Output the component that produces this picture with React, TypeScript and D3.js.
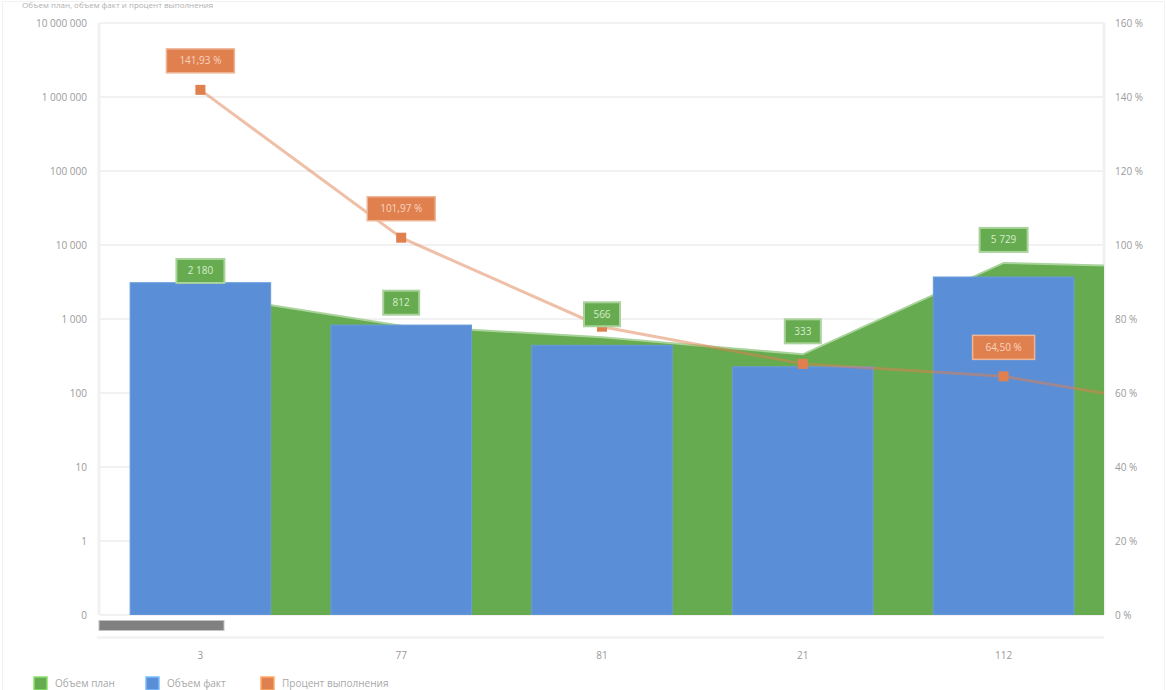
import React from "react";
import * as d3 from "d3";

const categories = ["3", "77", "81", "21", "112", "54"];
const planValues = [2180, 812, 566, 333, 5729, 4900];
const factValues = [3094, 828, 441, 226, 3695, 2715];
const percentValues = [141.93, 101.97, 77.92, 67.87, 64.5, 55.41];
const leftTicks = [0.1, 1, 10, 100, 1000, 10000, 100000, 1000000, 10000000];
const rightTicks = [0, 20, 40, 60, 80, 100, 120, 140, 160];
const seriesNames = ["Объем план", "Объем факт", "Процент выполнения"];
const visibleCount = 5;

const W = 1166;
const H = 690;
const M = { left: 100, right: 1104, top: 23, bottom: 615 };
const GREEN = "#66ab4f";
const GREEN_LIGHT = "#a9d39b";
const BLUE = "#5a8fd7";
const ORANGE = "#e0804f";
const FONT = "'Open Sans', 'Noto Sans', sans-serif";

const fmtNum = (v: number) => d3.format(",")(v).replace(/,/g, " ");
const fmtPct = (v: number) => d3.format(".2f")(v).replace(".", ",") + " %";
const fmtLeft = (v: number) => (v < 1 ? "0" : fmtNum(v));

export default function App() {
  const step = (M.right - M.left) / visibleCount;
  const x = d3
    .scaleBand<string>()
    .domain(categories)
    .range([M.left, M.left + step * categories.length])
    .paddingInner(0.3)
    .paddingOuter(0.15);
  const xc = (i: number) => M.left + step * (i + 0.5);
  const yL = d3.scaleLog().domain([0.1, 1e7]).range([M.bottom, M.top]);
  const yR = d3.scaleLinear().domain([0, 160]).range([M.bottom, M.top]);

  const area = d3
    .area<number>()
    .x((_, i) => xc(i))
    .y0(M.bottom)
    .y1((d) => yL(d));
  const topLine = d3
    .line<number>()
    .x((_, i) => xc(i))
    .y((d) => yL(d));
  const pctLine = d3
    .line<number>()
    .x((_, i) => xc(i))
    .y((d) => yR(d));

  const labelH = 24;
  const greenBoxes = planValues.slice(0, visibleCount).map((v, i) => {
    const t = fmtNum(v);
    const w = t.length * 6 + 18;
    const cy = yL(v) - 23;
    return { t, w, cx: xc(i), cy };
  });
  const orangeBoxes = percentValues.slice(0, visibleCount).map((v, i) => {
    const t = fmtPct(v);
    const w = t.length * 6 + 20;
    const cy = yR(v) - 29;
    const g = greenBoxes[i];
    const overlap = Math.abs(cy - g.cy) < labelH;
    return { t, w, cx: xc(i), cy, show: !overlap };
  });

  return (
    <div style={{ position: "absolute", left: 0, top: 0 }}>
      <svg width={W} height={H} style={{ display: "block", fontFamily: FONT }}>
        <defs>
          <clipPath id="plot">
            <rect x={M.left} y={0} width={M.right - M.left} height={M.bottom} />
          </clipPath>
        </defs>
        <rect x={0} y={0} width={W} height={H} fill="#fff" />
        <rect x={2.5} y={1.5} width={W - 4} height={H} fill="none" stroke="#f2f2f2" />
        <text x={22} y={8} fontSize={8} fill="#b0b0b0">
          Объем план, объем факт и процент выполнения
        </text>

        {/* grid */}
        {leftTicks.map((t) => (
          <line key={t} x1={M.left} x2={M.right} y1={yL(t)} y2={yL(t)} stroke="#f1f1f1" strokeWidth={2} />
        ))}
        <line x1={M.left - 1} x2={M.left - 1} y1={M.top} y2={M.bottom} stroke="#f1f1f1" strokeWidth={3} />
        <line x1={M.right} x2={M.right} y1={M.top} y2={M.bottom} stroke="#f1f1f1" strokeWidth={3} />

        {/* left axis */}
        {leftTicks.map((t) => (
          <text key={t} x={87} y={yL(t)} dy="0.35em" textAnchor="end" fontSize={10} fill="#9a9a9a">
            {fmtLeft(t)}
          </text>
        ))}
        {/* right axis */}
        {rightTicks.map((t) => (
          <text key={t} x={1115} y={yR(t)} dy="0.35em" textAnchor="start" fontSize={10} fill="#9a9a9a">
            {t + " %"}
          </text>
        ))}

        <g clipPath="url(#plot)">
          <path d={area(planValues) || ""} fill={GREEN} />
          <path d={topLine(planValues) || ""} fill="none" stroke={GREEN_LIGHT} strokeWidth={2} />
          {factValues.map((v, i) => (
            <rect
              key={i}
              x={x(categories[i])}
              y={yL(v)}
              width={x.bandwidth()}
              height={M.bottom - yL(v)}
              fill={BLUE}
              stroke="#6a9bdc"
              strokeWidth={1}
            />
          ))}
          <path d={pctLine(percentValues) || ""} fill="none" stroke={ORANGE} strokeOpacity={0.5} strokeWidth={3} />
          {percentValues.map((v, i) => (
            <rect key={i} x={xc(i) - 5} y={yR(v) - 5} width={10} height={10} fill={ORANGE} />
          ))}
        </g>

        {/* labels */}
        {greenBoxes.map((b, i) => (
          <g key={i}>
            <rect x={b.cx - b.w / 2} y={b.cy - labelH / 2} width={b.w} height={labelH} fill={GREEN} stroke={GREEN_LIGHT} strokeWidth={2} />
            <text x={b.cx} y={b.cy} dy="0.35em" textAnchor="middle" fontSize={10} fill="#d6ecce">
              {b.t}
            </text>
          </g>
        ))}
        {orangeBoxes.map((b, i) =>
          b.show ? (
            <g key={i}>
              <rect x={b.cx - b.w / 2} y={b.cy - labelH / 2} width={b.w} height={labelH} fill={ORANGE} stroke="#eeb696" strokeWidth={1.5} />
              <text x={b.cx} y={b.cy} dy="0.35em" textAnchor="middle" fontSize={10} fill="#f8d5c0">
                {b.t}
              </text>
            </g>
          ) : null
        )}

        {/* scrollbar */}
        <rect x={M.left - 3} y={636} width={M.right - M.left + 3} height={3} fill="#f3f3f3" />
        <rect x={99} y={620.5} width={125} height={10} fill="#808080" stroke="#c4c4c4" strokeWidth={1} />

        {/* x axis labels */}
        {categories.slice(0, visibleCount).map((c, i) => (
          <text key={c} x={xc(i)} y={655} dy="0.35em" textAnchor="middle" fontSize={10} fill="#9a9a9a">
            {c}
          </text>
        ))}

        {/* legend */}
        {[GREEN, BLUE, ORANGE].map((col, i) => {
          const lx = [34, 146, 261][i];
          return (
            <g key={i}>
              <rect x={lx} y={677} width={13} height={13} fill={col} stroke={d3.color(col)!.brighter(0.8).toString()} strokeWidth={1.5} />
              <text x={lx + 21} y={683.5} dy="0.35em" fontSize={10} fill="#a8a8a8">
                {seriesNames[i]}
              </text>
            </g>
          );
        })}
      </svg>
    </div>
  );
}
